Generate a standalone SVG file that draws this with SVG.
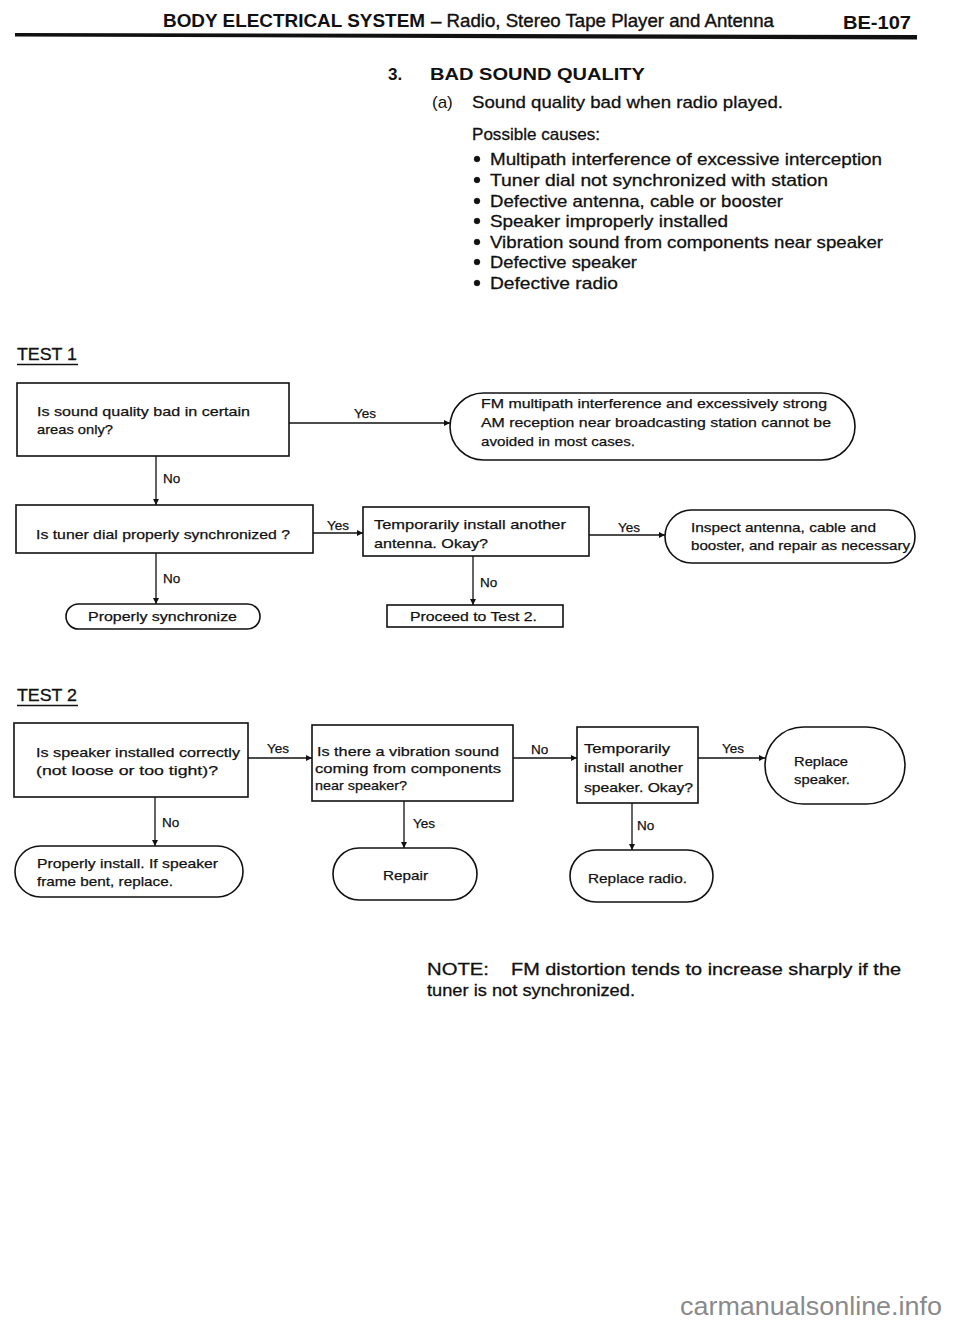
<svg xmlns="http://www.w3.org/2000/svg" width="960" height="1326" viewBox="0 0 960 1326">
<style>
  .hd{font-family:"Liberation Sans",Arial,sans-serif;font-weight:bold;font-size:19px;fill:#111}
  .sec{font-family:"Liberation Sans",Arial,sans-serif;font-weight:bold;font-size:17px;fill:#111}
  .t{font-family:"Liberation Sans",Arial,sans-serif;font-size:13.5px;fill:#111;stroke:#111;stroke-width:0.25}
  .lbl{font-family:"Liberation Sans",Arial,sans-serif;font-size:13.5px;fill:#111;stroke:#111;stroke-width:0.25}
  .test{font-family:"Liberation Sans",Arial,sans-serif;font-size:16px;fill:#111;stroke:#111;stroke-width:0.3}
  .box{fill:#fff;stroke:#111;stroke-width:1.6}
  .conn line{stroke:#111;stroke-width:1.3;marker-end:url(#arr)}
  .wm{font-family:"Liberation Sans",Arial,sans-serif;font-size:25px;fill:#8a8a8a}
</style>
<defs>
  <marker id="arr" viewBox="0 0 10 10" refX="10" refY="5" markerWidth="7" markerHeight="6" markerUnits="userSpaceOnUse" orient="auto">
    <path d="M0,0 L10,5 L0,10 z" fill="#111"/>
  </marker>
</defs>
<rect width="960" height="1326" fill="#fff"/>

<!-- header -->
<g id="header">
  <text class="hd" x="163" y="27" textLength="262" lengthAdjust="spacingAndGlyphs">BODY ELECTRICAL SYSTEM</text>
  <text class="hd" x="431" y="27" textLength="343" lengthAdjust="spacingAndGlyphs" style="font-weight:normal;stroke:#111;stroke-width:0.4">– Radio, Stereo Tape Player and Antenna</text>
  <text class="hd" x="843" y="29" textLength="68" lengthAdjust="spacingAndGlyphs">BE-107</text>
  <polygon points="15,33 917,35 917,39.5 15,36.5" fill="#111"/>
</g>

<!-- section text -->
<g id="section">
  <text class="sec" x="388" y="80">3.</text>
  <text class="sec" x="430" y="80" textLength="215" lengthAdjust="spacingAndGlyphs">BAD SOUND QUALITY</text>
  <text class="sec" x="432" y="108" style="font-weight:normal">(a)</text>
  <text class="sec" x="472" y="108" textLength="311" lengthAdjust="spacingAndGlyphs" style="font-weight:normal;stroke:#111;stroke-width:0.3">Sound quality bad when radio played.</text>
  <text class="sec" x="472" y="140" textLength="128" lengthAdjust="spacingAndGlyphs" style="font-weight:normal;stroke:#111;stroke-width:0.3">Possible causes:</text>
  <g style="font-weight:normal;stroke:#111;stroke-width:0.3">
    <circle cx="477" cy="159" r="3" fill="#111"/>
    <text class="sec" x="490" y="165" textLength="392" lengthAdjust="spacingAndGlyphs" style="font-weight:normal">Multipath interference of excessive interception</text>
    <circle cx="477" cy="180" r="3" fill="#111"/>
    <text class="sec" x="490" y="186" textLength="338" lengthAdjust="spacingAndGlyphs" style="font-weight:normal">Tuner dial not synchronized with station</text>
    <circle cx="477" cy="201" r="3" fill="#111"/>
    <text class="sec" x="490" y="207" textLength="293" lengthAdjust="spacingAndGlyphs" style="font-weight:normal">Defective antenna, cable or booster</text>
    <circle cx="477" cy="221" r="3" fill="#111"/>
    <text class="sec" x="490" y="227" textLength="238" lengthAdjust="spacingAndGlyphs" style="font-weight:normal">Speaker improperly installed</text>
    <circle cx="477" cy="242" r="3" fill="#111"/>
    <text class="sec" x="490" y="248" textLength="393" lengthAdjust="spacingAndGlyphs" style="font-weight:normal">Vibration sound from components near speaker</text>
    <circle cx="477" cy="262" r="3" fill="#111"/>
    <text class="sec" x="490" y="268" textLength="147" lengthAdjust="spacingAndGlyphs" style="font-weight:normal">Defective speaker</text>
    <circle cx="477" cy="283" r="3" fill="#111"/>
    <text class="sec" x="490" y="289" textLength="128" lengthAdjust="spacingAndGlyphs" style="font-weight:normal">Defective radio</text>
  </g>
</g>

<!-- test headings -->
<g id="test1-title">
  <text class="test" x="17" y="360" textLength="60" lengthAdjust="spacingAndGlyphs">TEST 1</text>
  <line x1="17" y1="364.5" x2="78" y2="364.5" stroke="#111" stroke-width="1.4"/>
</g>
<g id="test2-title">
  <text class="test" x="17" y="701" textLength="60" lengthAdjust="spacingAndGlyphs">TEST 2</text>
  <line x1="17" y1="705.5" x2="78" y2="705.5" stroke="#111" stroke-width="1.4"/>
</g>

<!-- connectors -->
<g id="connectors" class="conn">
  <line x1="289" y1="423" x2="450" y2="423"/>
  <line x1="156" y1="456" x2="156" y2="505"/>
  <line x1="156" y1="553" x2="156" y2="604"/>
  <line x1="313" y1="533" x2="363" y2="533"/>
  <line x1="589" y1="535" x2="665" y2="535"/>
  <line x1="473" y1="556" x2="473" y2="605"/>
  <line x1="248" y1="758" x2="312" y2="758"/>
  <line x1="513" y1="758" x2="577" y2="758"/>
  <line x1="698" y1="758" x2="765" y2="758"/>
  <line x1="155" y1="797" x2="155" y2="846"/>
  <line x1="404" y1="801" x2="404" y2="848"/>
  <line x1="632" y1="803" x2="632" y2="850"/>
</g>
<g id="connector-labels">
  <text class="lbl" x="354" y="418">Yes</text>
  <text class="lbl" x="163" y="483">No</text>
  <text class="lbl" x="163" y="583">No</text>
  <text class="lbl" x="327" y="530">Yes</text>
  <text class="lbl" x="618" y="532">Yes</text>
  <text class="lbl" x="480" y="587">No</text>
  <text class="lbl" x="267" y="753">Yes</text>
  <text class="lbl" x="531" y="754">No</text>
  <text class="lbl" x="722" y="753">Yes</text>
  <text class="lbl" x="162" y="827">No</text>
  <text class="lbl" x="413" y="828">Yes</text>
  <text class="lbl" x="637" y="830">No</text>
</g>

<!-- TEST 1 nodes -->
<g id="q-sound-areas">
  <rect class="box" x="17" y="383" width="272" height="73"/>
  <text class="t" x="37" y="416" textLength="213" lengthAdjust="spacingAndGlyphs">Is sound quality bad in certain</text>
  <text class="t" x="37" y="434" textLength="76" lengthAdjust="spacingAndGlyphs">areas only?</text>
</g>
<g id="r-fm-multipath">
  <rect class="box" x="450" y="393" width="405" height="67" rx="33.5"/>
  <text class="t" x="481" y="408" textLength="346" lengthAdjust="spacingAndGlyphs">FM multipath interference and excessively strong</text>
  <text class="t" x="481" y="427" textLength="350" lengthAdjust="spacingAndGlyphs">AM reception near broadcasting station cannot be</text>
  <text class="t" x="481" y="446" textLength="154" lengthAdjust="spacingAndGlyphs">avoided in most cases.</text>
</g>
<g id="q-tuner-dial">
  <rect class="box" x="16" y="505" width="297" height="48"/>
  <text class="t" x="36" y="539" textLength="254" lengthAdjust="spacingAndGlyphs">Is tuner dial properly synchronized ?</text>
</g>
<g id="q-antenna">
  <rect class="box" x="363" y="507" width="226" height="49"/>
  <text class="t" x="374" y="529" textLength="192" lengthAdjust="spacingAndGlyphs">Temporarily install another</text>
  <text class="t" x="374" y="548" textLength="114" lengthAdjust="spacingAndGlyphs">antenna.  Okay?</text>
</g>
<g id="r-inspect-antenna">
  <rect class="box" x="665" y="510" width="250" height="53" rx="26.5"/>
  <text class="t" x="691" y="532" textLength="185" lengthAdjust="spacingAndGlyphs">Inspect antenna, cable and</text>
  <text class="t" x="691" y="550" textLength="219" lengthAdjust="spacingAndGlyphs">booster, and repair as necessary</text>
</g>
<g id="r-proceed-test2">
  <rect class="box" x="387" y="605" width="176" height="22"/>
  <text class="t" x="410" y="621" textLength="127" lengthAdjust="spacingAndGlyphs">Proceed to Test 2.</text>
</g>
<g id="r-synchronize">
  <rect class="box" x="66" y="604" width="194" height="25" rx="12.5"/>
  <text class="t" x="88" y="621" textLength="149" lengthAdjust="spacingAndGlyphs">Properly synchronize</text>
</g>

<!-- TEST 2 nodes -->
<g id="q-speaker-installed">
  <rect class="box" x="14" y="723" width="234" height="74"/>
  <text class="t" x="36" y="757" textLength="204" lengthAdjust="spacingAndGlyphs">Is speaker installed correctly</text>
  <text class="t" x="36" y="775" textLength="182" lengthAdjust="spacingAndGlyphs">(not loose or too tight)?</text>
</g>
<g id="q-vibration">
  <rect class="box" x="312" y="725" width="201" height="76"/>
  <text class="t" x="317" y="756" textLength="182" lengthAdjust="spacingAndGlyphs">Is there a vibration sound</text>
  <text class="t" x="315" y="773" textLength="186" lengthAdjust="spacingAndGlyphs">coming from components</text>
  <text class="t" x="315" y="790" textLength="92" lengthAdjust="spacingAndGlyphs">near speaker?</text>
</g>
<g id="q-speaker-swap">
  <rect class="box" x="577" y="727" width="121" height="76"/>
  <text class="t" x="584" y="753" textLength="86" lengthAdjust="spacingAndGlyphs">Temporarily</text>
  <text class="t" x="584" y="772" textLength="99" lengthAdjust="spacingAndGlyphs">install another</text>
  <text class="t" x="584" y="792" textLength="109" lengthAdjust="spacingAndGlyphs">speaker.  Okay?</text>
</g>
<g id="r-replace-speaker">
  <rect class="box" x="765" y="727" width="140" height="77" rx="38.5"/>
  <text class="t" x="794" y="766" textLength="54" lengthAdjust="spacingAndGlyphs">Replace</text>
  <text class="t" x="794" y="784" textLength="56" lengthAdjust="spacingAndGlyphs">speaker.</text>
</g>
<g id="r-properly-install">
  <rect class="box" x="15" y="846" width="228" height="51" rx="25.5"/>
  <text class="t" x="37" y="868" textLength="181" lengthAdjust="spacingAndGlyphs">Properly install. If speaker</text>
  <text class="t" x="37" y="886" textLength="136" lengthAdjust="spacingAndGlyphs">frame bent, replace.</text>
</g>
<g id="r-repair">
  <rect class="box" x="333" y="848" width="144" height="52" rx="26"/>
  <text class="t" x="383" y="880" textLength="45" lengthAdjust="spacingAndGlyphs">Repair</text>
</g>
<g id="r-replace-radio">
  <rect class="box" x="570" y="850" width="143" height="52" rx="26"/>
  <text class="t" x="588" y="883" textLength="99" lengthAdjust="spacingAndGlyphs">Replace radio.</text>
</g>

<!-- note -->
<g id="note">
  <text class="sec" x="427" y="975" style="font-weight:normal;stroke:#111;stroke-width:0.3" textLength="62" lengthAdjust="spacingAndGlyphs">NOTE:</text>
  <text class="sec" x="511" y="975" style="font-weight:normal;stroke:#111;stroke-width:0.3" textLength="390" lengthAdjust="spacingAndGlyphs">FM distortion tends to increase sharply if the</text>
  <text class="sec" x="427" y="996" style="font-weight:normal;stroke:#111;stroke-width:0.3" textLength="208" lengthAdjust="spacingAndGlyphs">tuner is not synchronized.</text>
</g>

<text class="wm" x="680" y="1315" textLength="262" lengthAdjust="spacingAndGlyphs">carmanualsonline.info</text>
</svg>
